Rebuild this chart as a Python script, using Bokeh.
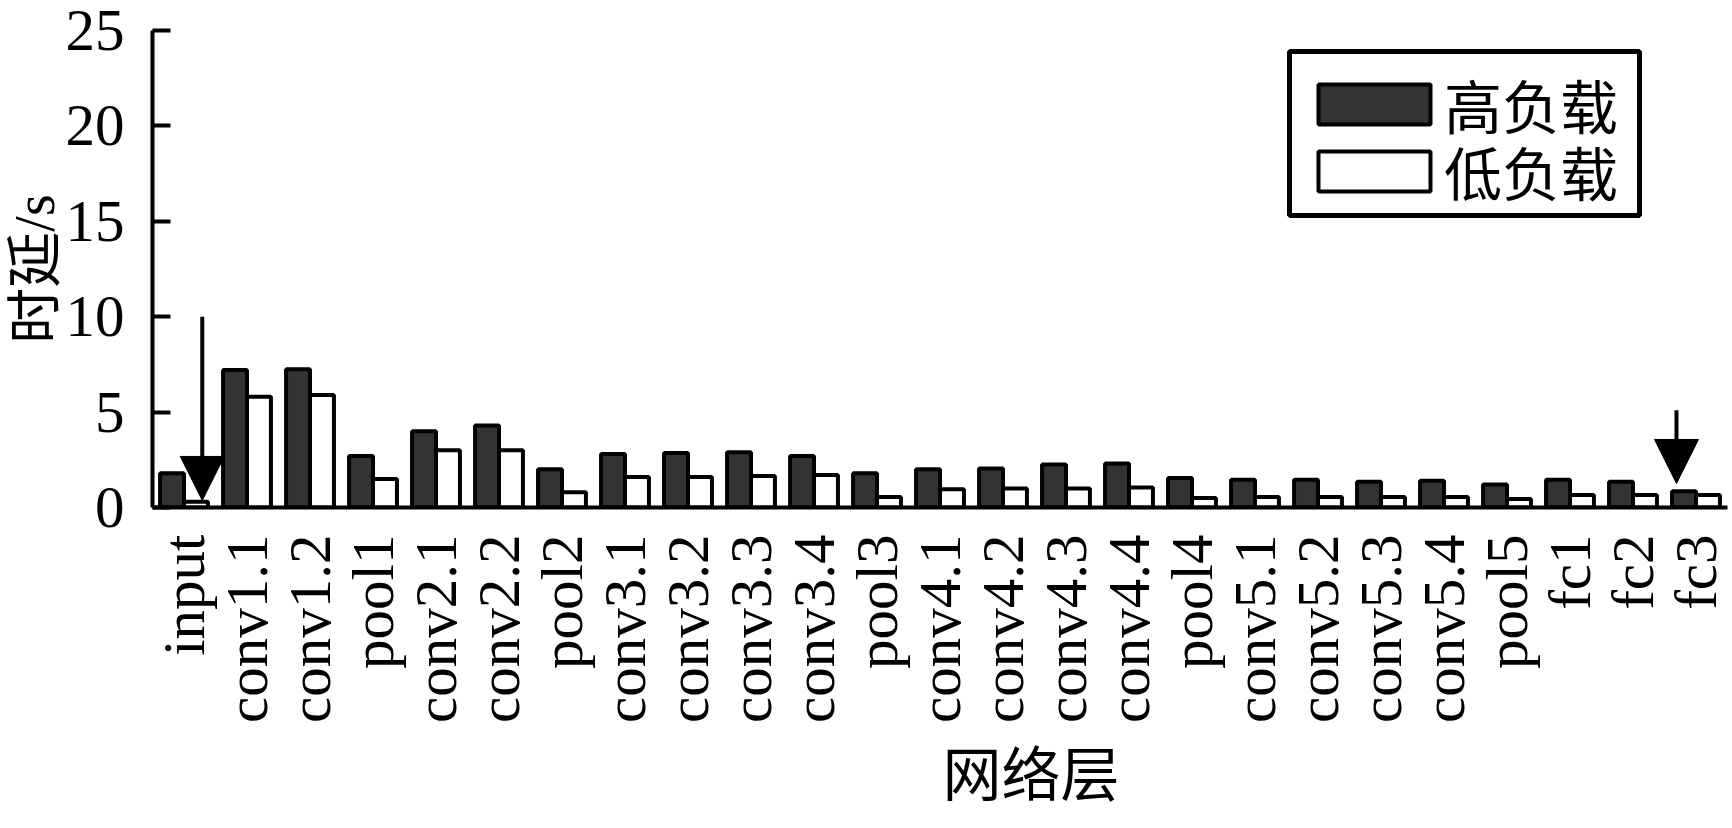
import math
from bokeh.plotting import figure
from bokeh.models import (FactorRange, Range1d, FixedTicker, Arrow, Title,
                          NormalHead, ColumnDataSource, Legend, LegendItem,
                          BoxAnnotation)
from bokeh.transform import dodge
from bokeh.embed import file_html
from bokeh.resources import INLINE

# ---------------- data ----------------
layers = ["input", "conv1.1", "conv1.2", "pool1", "conv2.1", "conv2.2", "pool2",
          "conv3.1", "conv3.2", "conv3.3", "conv3.4", "pool3",
          "conv4.1", "conv4.2", "conv4.3", "conv4.4", "pool4",
          "conv5.1", "conv5.2", "conv5.3", "conv5.4", "pool5",
          "fc1", "fc2", "fc3"]
high_load = [1.8, 7.2, 7.25, 2.7, 4.0, 4.3, 2.0,
             2.8, 2.85, 2.9, 2.7, 1.8,
             2.0, 2.05, 2.25, 2.3, 1.55,
             1.45, 1.45, 1.35, 1.4, 1.2,
             1.45, 1.35, 0.85]
low_load = [0.3, 5.8, 5.9, 1.5, 3.0, 3.0, 0.8,
            1.6, 1.6, 1.65, 1.7, 0.55,
            0.95, 1.0, 1.0, 1.05, 0.5,
            0.55, 0.55, 0.55, 0.55, 0.45,
            0.65, 0.65, 0.65]
y_ticks = [0, 5, 10, 15, 20, 25]
series_names = ["高负载", "低负载"]
x_title = "网络层"
y_title = "时延/s"
arrow_layers = ["input", "fc3"]
arrow_tail = [10.0, 5.1]
arrow_tip = [0.37, 1.26]
arrow_shift = [0.29, -0.31]

SERIF = "Liberation Serif"
MIXED = "Liberation Serif, Noto Sans CJK SC"

src = ColumnDataSource(dict(layer=layers, high=high_load, low=low_load))

p = figure(width=1728, height=828,
           x_range=FactorRange(*layers), y_range=Range1d(0, 25),
           output_backend="svg", toolbar_location=None,
           min_border_left=152, min_border_right=1,
           min_border_top=30, min_border_bottom=321)
p.background_fill_color = "white"
p.border_fill_color = "white"
p.outline_line_color = None
p.xgrid.visible = False
p.ygrid.visible = False

r_high = p.vbar(x=dodge("layer", -0.19, range=p.x_range), top="high", width=0.38,
                source=src, fill_color="#333333", line_color="black", line_width=4)
r_low = p.vbar(x=dodge("layer", 0.19, range=p.x_range), top="low", width=0.38,
               source=src, fill_color="white", line_color="black", line_width=4)

# axes
for ax in (p.xaxis[0], p.yaxis[0]):
    ax.axis_line_width = 4
    ax.axis_line_color = "black"
    ax.major_label_text_font = SERIF
    ax.major_label_text_font_size = "59px"
    ax.major_label_text_color = "black"
    ax.minor_tick_line_color = None

p.yaxis.ticker = FixedTicker(ticks=y_ticks)
p.yaxis.major_tick_in = 18
p.yaxis.major_tick_out = 0
p.yaxis.major_tick_line_width = 4
p.yaxis.major_tick_line_color = "black"
p.yaxis.major_label_standoff = 28
p.yaxis.axis_label = y_title
p.yaxis.axis_label_text_font = MIXED
p.yaxis.axis_label_text_font_size = "56px"
p.yaxis.axis_label_text_font_style = "normal"
p.yaxis.axis_label_text_color = "black"
p.yaxis.axis_label_standoff = -3

p.xaxis.major_tick_line_color = None
p.xaxis.major_tick_in = 0
p.xaxis.major_tick_out = 0
p.xaxis.major_label_orientation = math.pi / 2
p.xaxis.major_label_standoff = 27

# x axis title (placed right of centre, as in the original)
p.add_layout(Title(text=x_title, align="left", offset=790, standoff=34,
                   vertical_align="top",
                   text_font=MIXED, text_font_size="59px",
                   text_font_style="normal", text_color="black"), "below")

# arrows
for lay, t0, t1, s in zip(arrow_layers, arrow_tail, arrow_tip, arrow_shift):
    xs = layers.index(lay) + 0.5 + s
    p.add_layout(Arrow(end=NormalHead(size=44, fill_color="black",
                                      line_color="black", line_width=1),
                       x_start=xs, y_start=t0, x_end=xs, y_end=t1,
                       line_width=4, line_color="black"))

# legend frame
p.add_layout(BoxAnnotation(left=1137, right=1487, bottom=292, top=456,
                           left_units="screen", right_units="screen",
                           bottom_units="screen", top_units="screen",
                           fill_color="white", fill_alpha=1,
                           line_color="black", line_alpha=1, line_width=5))

# legend entries (one per row)
for name, rend, vy in zip(series_names, (r_high, r_low), (361, 294)):
    lg = Legend(items=[LegendItem(label=name, renderers=[rend])],
                location=(1152, vy))
    lg.border_line_color = None
    lg.background_fill_alpha = 0
    lg.label_text_font = MIXED
    lg.label_text_font_size = "58px"
    lg.label_text_color = "black"
    lg.glyph_width = 140
    lg.glyph_height = 50
    lg.label_standoff = 0
    lg.label_width = 180
    lg.padding = 0
    lg.spacing = 0
    lg.margin = 0
    p.add_layout(lg)

open("out.html", "w").write(file_html(p, INLINE))
